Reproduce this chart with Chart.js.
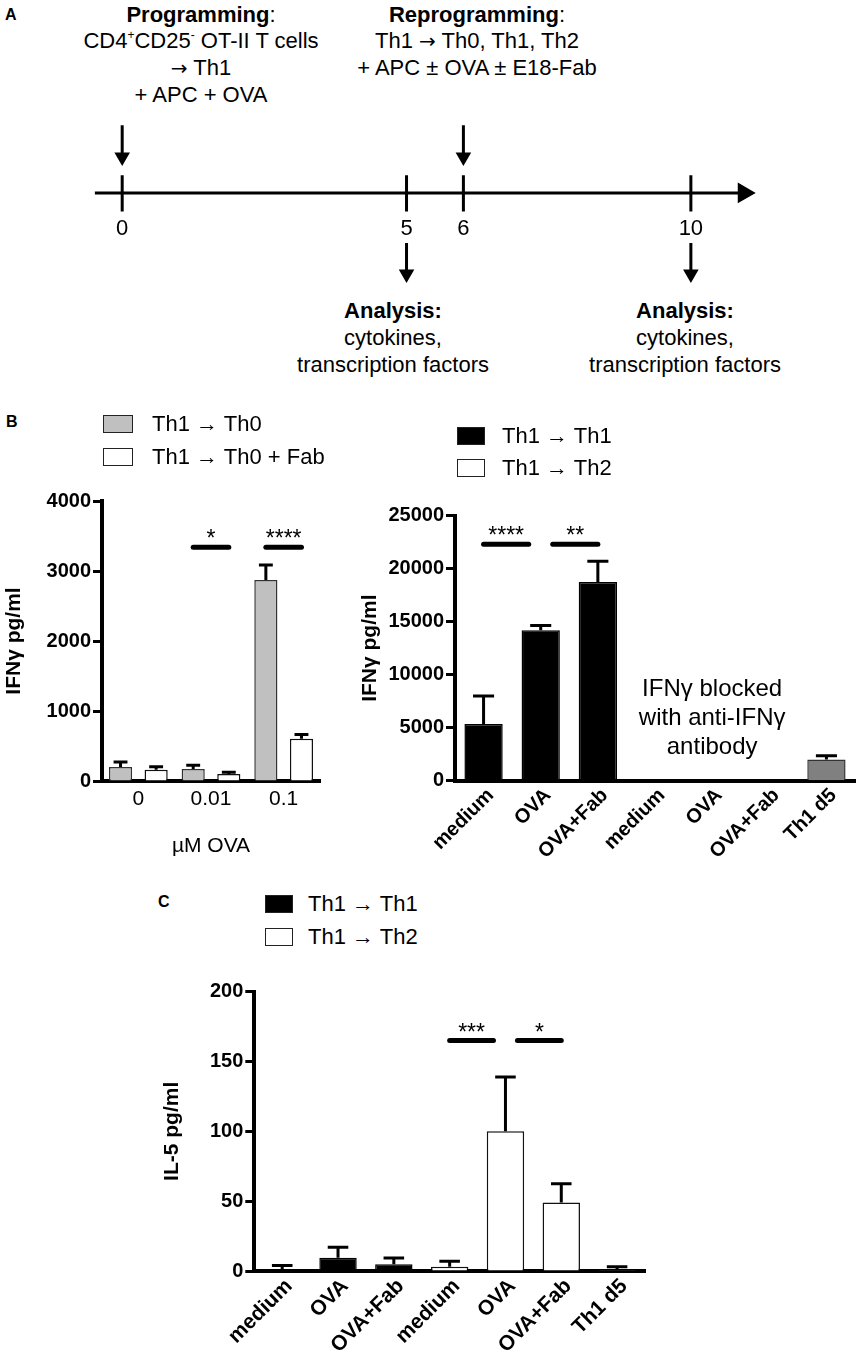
<!DOCTYPE html>
<html>
<head>
<meta charset="utf-8">
<script src="https://cdn.jsdelivr.net/npm/chart.js@4.4.1/dist/chart.umd.min.js"></script>
<style>
  body { margin: 0; background: #fff; }
  #page { position: relative; width: 860px; height: 1358px; overflow: hidden; background: #fff;
          font-family: "Liberation Sans", Arial, sans-serif; color: #000; }
  canvas, .abs { position: absolute; }
  .blk { position: absolute; text-align: center; font-size: 22px; line-height: 26.8px; white-space: nowrap; }
  .blk sup { font-size: 12px; line-height: 0; vertical-align: 9px; }
  .arr { font-family: "DejaVu Sans", sans-serif; font-size: 20px; }
  .letter { position: absolute; font-weight: bold; font-size: 16px; line-height: 20px; }
  .lg-box { position: absolute; box-sizing: border-box; border: 1.5px solid #222; }
  .lg-txt { position: absolute; font-size: 22px; line-height: 24px; white-space: nowrap; }
</style>
</head>
<body>
<div id="page">
  <div class="letter" style="left:5px; top:5px;">A</div>
  <div class="letter" style="left:6px; top:412px;">B</div>
  <div class="letter" style="left:158px; top:892px;">C</div>

  <div class="blk" style="left:1px; top:1.5px; width:400px;">
    <b>Programming</b>:<br>CD4<sup>+</sup>CD25<sup>-</sup> OT-II T cells<br><span class="arr">→</span> Th1<br>+ APC + OVA
  </div>
  <div class="blk" style="left:277px; top:1.5px; width:400px;">
    <b>Reprogramming</b>:<br>Th1 <span class="arr">→</span> Th0, Th1, Th2<br>+ APC ± OVA ± E18-Fab
  </div>
  <div class="blk" style="left:193px; top:298px; width:400px;">
    <b>Analysis:</b><br>cytokines,<br>transcription factors
  </div>
  <div class="blk" style="left:485px; top:298px; width:400px;">
    <b>Analysis:</b><br>cytokines,<br>transcription factors
  </div>

  <canvas id="timeline" width="860" height="200" style="left:0; top:100px;"></canvas>
  <canvas id="ifnTh0" width="340" height="400" style="left:0; top:470px;"></canvas>
  <canvas id="ifnTh1Th2" width="520" height="400" style="left:340px; top:480px;"></canvas>
  <canvas id="il5" width="520" height="398" style="left:150px; top:960px;"></canvas>
</div>

<script>
// ---- data ----
// A: timeline (days)
const timelineDays = [0, 5, 6, 10];
const programmingDays = [0, 6];
const analysisDays = [5, 10];

// B left: IFNγ after Th1 -> Th0
const ovaDoses = ['0', '0.01', '0.1'];
const th0Means = [200, 170, 2870];
const th0Errors = [70, 55, 215];
const th0FabMeans = [160, 100, 605];
const th0FabErrors = [45, 25, 60];
const ifnTicksTh0 = [0, 1000, 2000, 3000, 4000];
const sigTh0 = [
    { a: [0, 1], b: [1, 1], y: 3340, label: '*' },
    { a: [0, 2], b: [1, 2], y: 3340, label: '****' }
];

// B right: IFNγ after Th1 -> Th1 / Th2
const conditions = ['medium', 'OVA', 'OVA+Fab', 'medium', 'OVA', 'OVA+Fab', 'Th1 d5'];
const th1IfnMeans = [5350, 14200, 18750, null, null, null, null];
const th1IfnErrors = [2650, 450, 1950, null, null, null, null];
const th2IfnMeans = [null, null, null, null, null, null, null]; // blocked
const th1d5IfnMeans = [null, null, null, null, null, null, 2000];
const th1d5IfnErrors = [null, null, null, null, null, null, 350];
const ifnTicksTh1Th2 = [0, 5000, 10000, 15000, 20000, 25000];
const sigTh1Th2 = [
    { a: [0, 0], b: [0, 1], y: 22300, label: '****' },
    { a: [0, 1], b: [0, 2], y: 22300, label: '**' }
];
const blockedNote = ['IFNγ blocked', 'with anti-IFNγ', 'antibody'];

// C: IL-5
const th1Il5Means = [1.5, 9.5, 4.8, null, null, null, null];
const th1Il5Errors = [2.5, 7.5, 4.5, null, null, null, null];
const th2Il5Means = [null, null, null, 3, 100, 49, null];
const th2Il5Errors = [null, null, null, 4, 39, 13.5, null];
const th1d5Il5Means = [null, null, null, null, null, null, 0.7];
const th1d5Il5Errors = [null, null, null, null, null, null, 2.3];
const il5Ticks = [0, 50, 100, 150, 200];
const sigIl5 = [
    { a: [1, 3], b: [1, 4], y: 165, label: '***' },
    { a: [1, 4], b: [1, 5], y: 165, label: '*' }
];

// ---- shared settings ----
const FONT = '"Liberation Sans", Arial, sans-serif';
Chart.defaults.font.family = FONT;
Chart.defaults.color = '#000';

const errorBars = {
    id: 'errorBars',
    afterDatasetsDraw(chart, args, opts) {
        const { ctx } = chart;
        const y = chart.scales.y;
        chart.data.datasets.forEach((ds, d) => {
            if (!ds.errors) return;
            chart.getDatasetMeta(d).data.forEach((bar, i) => {
                const v = ds.data[i], e = ds.errors[i];
                if (v == null || e == null) return;
                const y0 = y.getPixelForValue(v);
                const y1 = y.getPixelForValue(v + e);
                const half = bar.width * opts.cap / 2;
                ctx.save();
                ctx.strokeStyle = '#000';
                ctx.lineWidth = opts.width;
                ctx.beginPath();
                ctx.moveTo(bar.x, y0);
                ctx.lineTo(bar.x, y1);
                ctx.moveTo(bar.x - half, y1);
                ctx.lineTo(bar.x + half, y1);
                ctx.stroke();
                ctx.restore();
            });
        });
    }
};

// significance lines with stars
const sigBars = {
    id: 'sigBars',
    afterDatasetsDraw(chart, args, opts) {
        const { ctx } = chart;
        const y = chart.scales.y;
        const key = p => p.join(':');
        const ends = opts.items.flatMap(s => [key(s.a), key(s.b)]);
        const shared = k => ends.filter(e => e === k).length > 1;
        opts.items.forEach(s => {
            const xa = chart.getDatasetMeta(s.a[0]).data[s.a[1]].x;
            const xb = chart.getDatasetMeta(s.b[0]).data[s.b[1]].x;
            const x1 = xa + (shared(key(s.a)) ? opts.sharedInset : opts.outerInset);
            const x2 = xb - (shared(key(s.b)) ? opts.sharedInset : opts.outerInset);
            const py = y.getPixelForValue(s.y);
            ctx.save();
            ctx.strokeStyle = '#000';
            ctx.lineWidth = 5;
            ctx.lineCap = 'round';
            ctx.beginPath();
            ctx.moveTo(x1, py);
            ctx.lineTo(x2, py);
            ctx.stroke();
            ctx.fillStyle = '#000';
            ctx.font = '23px ' + FONT;
            ctx.textAlign = 'center';
            ctx.textBaseline = 'alphabetic';
            ctx.fillText(s.label, (x1 + x2) / 2, py - 1);
            ctx.restore();
        });
    }
};

const noteText = {
    id: 'noteText',
    afterDatasetsDraw(chart, args, opts) {
        if (!opts.lines) return;
        const { ctx } = chart;
        const x = chart.scales.x.getPixelForValue(opts.index);
        const py = chart.scales.y.getPixelForValue(opts.y);
        ctx.save();
        ctx.fillStyle = '#000';
        ctx.font = '24px ' + FONT;
        ctx.textAlign = 'center';
        ctx.textBaseline = 'middle';
        opts.lines.forEach((t, k) => ctx.fillText(t, x, py + k * opts.lineHeight));
        ctx.restore();
    }
};

const dayLabels = {
    id: 'dayLabels',
    afterDatasetsDraw(chart, args, opts) {
        const { ctx, scales: { x, y } } = chart;
        ctx.save();
        ctx.fillStyle = '#000';
        ctx.font = '22px ' + FONT;
        ctx.textAlign = 'center';
        ctx.textBaseline = 'middle';
        opts.days.forEach(d => ctx.fillText(String(d), x.getPixelForValue(d), y.getPixelForValue(opts.level)));
        ctx.restore();
    }
};

function addLegend(chart, pos) {
    const page = document.getElementById('page');
    chart.data.datasets.filter(ds => ds.inLegend !== false).forEach((ds, k) => {
        const cy = pos.top + k * pos.pitch;
        const box = document.createElement('div');
        box.className = 'lg-box';
        box.style.left = pos.left + 'px';
        box.style.top = (cy - pos.boxH / 2) + 'px';
        box.style.width = pos.boxW + 'px';
        box.style.height = pos.boxH + 'px';
        box.style.background = ds.backgroundColor;
        page.appendChild(box);
        const txt = document.createElement('div');
        txt.className = 'lg-txt';
        txt.style.left = pos.textLeft + 'px';
        txt.style.top = (cy - 12) + 'px';
        txt.textContent = ds.label;
        page.appendChild(txt);
    });
}

function yAxis(ticks, title, width, titlePad) {
    return {
        min: ticks[0],
        max: ticks[ticks.length - 1],
        afterBuildTicks(s) { s.ticks = ticks.map(v => ({ value: v })); },
        ticks: { font: { size: 20, weight: 'bold' }, color: '#000', padding: 2, callback: v => String(v) },
        grid: { drawOnChartArea: false, drawTicks: true, tickLength: 9, tickWidth: 3, tickColor: '#000' },
        border: { color: '#000', width: 4 },
        title: { display: true, text: title, font: { size: 21, weight: 'bold' }, color: '#000', padding: { top: titlePad, bottom: 0 } },
        afterFit(s) { s.width = width; }
    };
}

function rotatedXAxis(height, size) {
    return {
        grid: { display: false, drawTicks: false },
        border: { color: '#000', width: 4 },
        ticks: { font: { size: size, weight: 'bold' }, color: '#000', padding: 3, labelOffset: 7,
                 minRotation: 45, maxRotation: 45, autoSkip: false },
        afterFit(s) { s.height = height; }
    };
}

const common = {
    responsive: false,
    animation: false,
    events: []
};

// ---- A: timeline ----
const tickReach = [20, -21];
const upperArrow = [77, 41];
const lowerArrow = [-57, -92];
const axisSpan = [-0.48, 10.93];

const arrowSet = (days, ends) => days.map(d => ({
    data: [{ x: d, y: ends[0] }, { x: d, y: ends[1] }],
    pointRadius: [0, 6],
    pointRotation: 180
}));

const timelineSets = [
    { data: [{ x: axisSpan[0], y: 0 }, { x: axisSpan[1], y: 0 }], pointRadius: [0, 9], pointRotation: 90 },
    ...timelineDays.map(d => ({ data: [{ x: d, y: tickReach[0] }, { x: d, y: tickReach[1] }], pointRadius: 0 })),
    ...arrowSet(programmingDays, upperArrow),
    ...arrowSet(analysisDays, lowerArrow)
].map(ds => Object.assign({
    showLine: true,
    borderColor: '#000',
    borderWidth: 3,
    pointStyle: 'triangle',
    pointBackgroundColor: '#000',
    pointBorderColor: '#000'
}, ds));

new Chart(document.getElementById('timeline'), {
    type: 'scatter',
    data: { datasets: timelineSets },
    options: Object.assign({}, common, {
        plugins: { legend: { display: false }, tooltip: { enabled: false }, dayLabels: { days: timelineDays, level: -41 } },
        scales: {
            x: { type: 'linear', min: -1.9376, max: 12.763, display: false },
            y: { type: 'linear', min: -108, max: 92, display: false }
        }
    }),
    plugins: [dayLabels]
});

// ---- B left ----
const chartTh0 = new Chart(document.getElementById('ifnTh0'), {
    type: 'bar',
    data: {
        labels: ovaDoses,
        datasets: [
            { label: 'Th1 → Th0', data: th0Means, errors: th0Errors, backgroundColor: '#c0c0c0', borderColor: '#333', borderWidth: 1.5 },
            { label: 'Th1 → Th0 + Fab', data: th0FabMeans, errors: th0FabErrors, backgroundColor: '#ffffff', borderColor: '#111', borderWidth: 1.5 }
        ]
    },
    options: Object.assign({}, common, {
        layout: { padding: { top: 31, right: 20, left: 0, bottom: 0 } },
        datasets: { bar: { categoryPercentage: 0.98, barPercentage: 0.65 } },
        plugins: {
            legend: { display: false }, tooltip: { enabled: false },
            errorBars: { cap: 0.6, width: 3 },
            sigBars: { items: sigTh0, outerInset: 0, sharedInset: 12 }
        },
        scales: {
            x: {
                grid: { display: false, drawTicks: false },
                border: { color: '#000', width: 4 },
                ticks: { font: { size: 21 }, color: '#000', padding: 6, maxRotation: 0, autoSkip: false },
                title: { display: true, text: 'µM OVA', font: { size: 21 }, color: '#000', padding: { top: 0, bottom: 11 } },
                afterFit(s) { s.height = 89; }
            },
            y: yAxis(ifnTicksTh0, 'IFNγ pg/ml', 102, 2)
        }
    }),
    plugins: [errorBars, sigBars]
});
addLegend(chartTh0, { left: 103, top: 424, pitch: 33, boxW: 30, boxH: 18, textLeft: 152 });

// ---- B right ----
const chartTh1Th2 = new Chart(document.getElementById('ifnTh1Th2'), {
    type: 'bar',
    data: {
        labels: conditions,
        datasets: [
            { label: 'Th1 → Th1', data: th1IfnMeans, errors: th1IfnErrors, backgroundColor: '#000000', borderColor: '#000', borderWidth: 1.5 },
            { label: 'Th1 → Th2', data: th2IfnMeans, backgroundColor: '#ffffff', borderColor: '#111', borderWidth: 1.5 },
            { label: 'Th1 d5', data: th1d5IfnMeans, errors: th1d5IfnErrors, backgroundColor: '#808080', borderColor: '#333', borderWidth: 1.5, inLegend: false }
        ]
    },
    options: Object.assign({}, common, {
        layout: { padding: { top: 35.7, right: 5, left: 0, bottom: 0 } },
        datasets: { bar: { categoryPercentage: 1, barPercentage: 0.67, grouped: false } },
        plugins: {
            legend: { display: false }, tooltip: { enabled: false },
            errorBars: { cap: 0.55, width: 3 },
            sigBars: { items: sigTh1Th2, outerInset: 0, sharedInset: 12 },
            noteText: { index: 4, y: 8650, lines: blockedNote, lineHeight: 29 }
        },
        scales: {
            x: rotatedXAxis(99.3, 20),
            y: yAxis(ifnTicksTh1Th2, 'IFNγ pg/ml', 115, 18)
        }
    }),
    plugins: [errorBars, sigBars, noteText]
});
addLegend(chartTh1Th2, { left: 457, top: 436, pitch: 32, boxW: 28, boxH: 18, textLeft: 502 });

// ---- C ----
const chartIl5 = new Chart(document.getElementById('il5'), {
    type: 'bar',
    data: {
        labels: conditions,
        datasets: [
            { label: 'Th1 → Th1', data: th1Il5Means, errors: th1Il5Errors, backgroundColor: '#000000', borderColor: '#000', borderWidth: 1.5 },
            { label: 'Th1 → Th2', data: th2Il5Means, errors: th2Il5Errors, backgroundColor: '#ffffff', borderColor: '#111', borderWidth: 1.5 },
            { label: 'Th1 d5', data: th1d5Il5Means, errors: th1d5Il5Errors, backgroundColor: '#808080', borderColor: '#333', borderWidth: 1.5, inLegend: false }
        ]
    },
    options: Object.assign({}, common, {
        layout: { padding: { top: 31.7, right: 25, left: 0, bottom: 0 } },
        datasets: { bar: { categoryPercentage: 1, barPercentage: 0.67, grouped: false } },
        plugins: {
            legend: { display: false }, tooltip: { enabled: false },
            errorBars: { cap: 0.55, width: 3 },
            sigBars: { items: sigIl5, outerInset: 0, sharedInset: 12 }
        },
        scales: {
            x: rotatedXAxis(87, 21),
            y: yAxis(il5Ticks, 'IL-5 pg/ml', 104.3, 10)
        }
    }),
    plugins: [errorBars, sigBars]
});
addLegend(chartIl5, { left: 265, top: 904, pitch: 32.5, boxW: 28, boxH: 18, textLeft: 308 });
</script>
</body>
</html>
